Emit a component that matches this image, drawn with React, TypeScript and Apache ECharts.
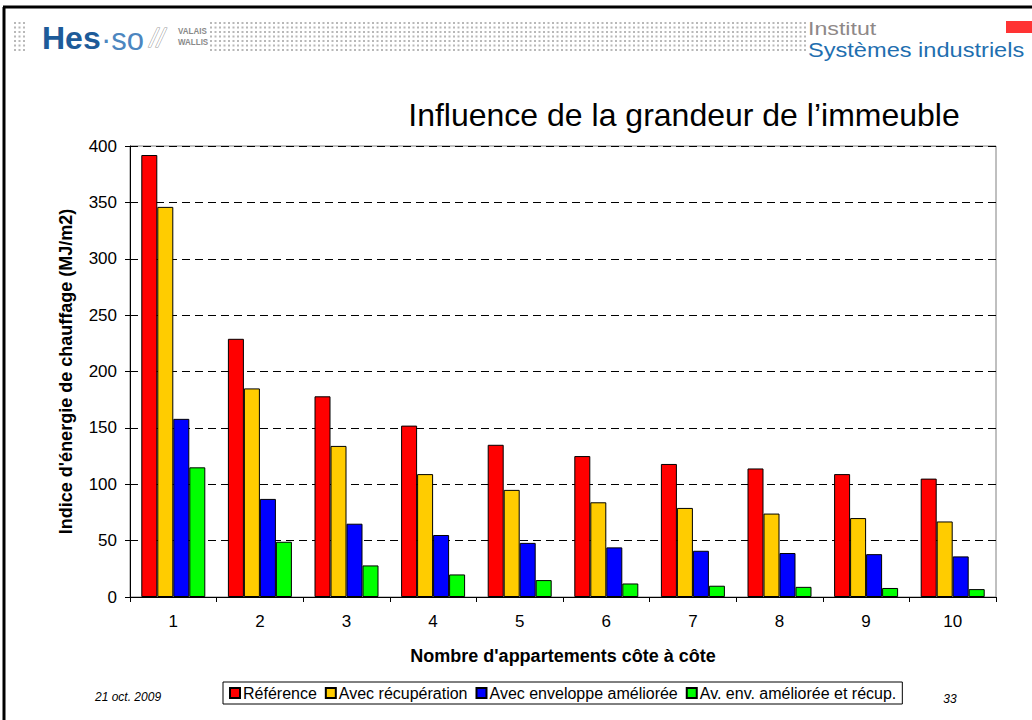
import React, { useEffect, useRef } from "react";
import * as echarts from "echarts";

const categories = ["1", "2", "3", "4", "5", "6", "7", "8", "9", "10"];
const reference = [392, 229, 178, 152, 135, 125, 118, 114, 109, 105];
const recuperation = [346, 185, 134, 109, 95, 84, 79, 74, 70, 67];
const enveloppe = [158, 87, 65, 55, 48, 44, 41, 39, 38, 36];
const envRecup = [115, 49, 28, 20, 15, 12, 10, 9, 8, 7];
const seriesNames = [
  "Référence",
  "Avec récupération",
  "Avec enveloppe améliorée",
  "Av. env. améliorée et récup.",
];
const seriesColors = ["#ff0000", "#ffcc00", "#0000ff", "#00ff00"];
const yMin = 0;
const yMax = 400;
const yStep = 50;

const FONT = "'Liberation Sans', Arial, sans-serif";

function dotRows(x1: number, x2: number) {
  const rows = [23, 27.5, 32, 36.5, 41, 45.5, 50];
  return rows.map((y) => ({
    type: "line",
    silent: true,
    shape: { x1, y1: y, x2, y2: y },
    style: { stroke: "#b8b8b8", lineWidth: 2, lineDash: [2, 2.5] },
  }));
}

export default function App() {
  const ref = useRef<HTMLDivElement>(null);
  useEffect(() => {
    document.body.style.margin = "0";
    const chart = echarts.init(ref.current!, null, { renderer: "svg" });
    const data = [reference, recuperation, enveloppe, envRecup];
    chart.setOption({
      animation: false,
      textStyle: { fontFamily: FONT },
      grid: {
        left: 130,
        right: 36,
        top: 146,
        bottom: 123,
        show: true,
        borderColor: "#808080",
        borderWidth: 1,
      },
      legend: {
        left: 223,
        top: 682,
        orient: "horizontal",
        data: seriesNames,
        icon: "rect",
        itemWidth: 10,
        itemHeight: 10,
        itemGap: 8,
        padding: [3, 6, 3, 6],
        borderColor: "#000",
        borderWidth: 1,
        textStyle: { fontSize: 16, color: "#000", fontFamily: FONT, padding: [0, 0, 0, -2] },
      },
      xAxis: {
        type: "category",
        data: categories,
        boundaryGap: true,
        axisLine: { lineStyle: { color: "#000", width: 1 } },
        axisTick: { show: true, length: 5, alignWithLabel: false, lineStyle: { color: "#000" } },
        axisLabel: { fontSize: 17, color: "#000", margin: 16, fontFamily: FONT },
        name: "Nombre d'appartements côte à côte",
        nameLocation: "middle",
        nameGap: 50,
        nameTextStyle: { fontSize: 18, fontWeight: "bold", color: "#000", fontFamily: FONT },
      },
      yAxis: {
        type: "value",
        min: yMin,
        max: yMax,
        interval: yStep,
        axisLine: { show: true, lineStyle: { color: "#000", width: 1 } },
        axisTick: { show: true, length: 5, lineStyle: { color: "#000" } },
        axisLabel: { fontSize: 17, color: "#000", margin: 13, fontFamily: FONT },
        splitLine: { show: true, lineStyle: { color: "#000", width: 1, type: [8, 5] } },
        name: "Indice d'énergie de chauffage (MJ/m2)",
        nameLocation: "middle",
        nameGap: 55,
        nameTextStyle: { fontSize: 18, fontWeight: "bold", color: "#000", fontFamily: FONT },
      },
      series: seriesNames.map((name, i) => ({
        name,
        type: "bar",
        data: data[i],
        barWidth: 16,
        barGap: "0%",
        itemStyle: { color: seriesColors[i], borderColor: "#000", borderWidth: 1 },
      })),
      graphic: [
        // slide frame
        { type: "line", shape: { x1: 3, y1: 7, x2: 1032, y2: 7 }, style: { stroke: "#000", lineWidth: 3 } },
        { type: "line", shape: { x1: 4, y1: 7, x2: 4, y2: 720 }, style: { stroke: "#000", lineWidth: 3 } },
        ...dotRows(14, 27),
        ...dotRows(210, 806),
        {
          type: "text",
          x: 42,
          y: 38,
          style: { text: "Hes", font: `bold 32px ${FONT}`, fill: "#1d5b99", verticalAlign: "middle" },
        },
        {
          type: "text",
          x: 101,
          y: 39,
          style: { text: "·so", font: `31px ${FONT}`, fill: "#4c86bf", verticalAlign: "middle" },
        },
        {
          type: "text",
          x: 150,
          y: 38,
          style: { text: "//", font: `italic 26px ${FONT}`, fill: "#fff", stroke: "#9a9a9a", lineWidth: 1, verticalAlign: "middle" },
        },
        {
          type: "text",
          x: 178,
          y: 31,
          scaleY: 1.2,
          style: { text: "VALAIS", font: `bold 8px ${FONT}`, fill: "#8a8a8a", verticalAlign: "middle" },
        },
        {
          type: "text",
          x: 178,
          y: 42,
          scaleY: 1.2,
          style: { text: "WALLIS", font: `bold 8px ${FONT}`, fill: "#8a8a8a", verticalAlign: "middle" },
        },
        {
          type: "text",
          x: 808,
          y: 28,
          scaleX: 1.22,
          style: { text: "Institut", font: `19px ${FONT}`, fill: "#8e8888", verticalAlign: "middle" },
        },
        {
          type: "text",
          x: 808,
          y: 50,
          scaleX: 1.18,
          style: { text: "Systèmes industriels", font: `20px ${FONT}`, fill: "#1f6fb0", verticalAlign: "middle" },
        },
        { type: "rect", shape: { x: 1006, y: 21, width: 26, height: 12 }, style: { fill: "#ff3333" } },
        {
          type: "text",
          x: 684,
          y: 115,
          style: {
            text: "Influence de la grandeur de l’immeuble",
            font: `32px ${FONT}`,
            fill: "#000",
            align: "center",
            verticalAlign: "middle",
          },
        },
        {
          type: "text",
          x: 95,
          y: 697,
          style: { text: "21 oct. 2009", font: `italic 12px ${FONT}`, fill: "#000", verticalAlign: "middle" },
        },
        {
          type: "text",
          x: 950,
          y: 699,
          style: { text: "33", font: `italic 12px ${FONT}`, fill: "#000", align: "center", verticalAlign: "middle" },
        },
      ],
    });
    return () => chart.dispose();
  }, []);
  return <div ref={ref} style={{ width: 1032, height: 720 }} />;
}
